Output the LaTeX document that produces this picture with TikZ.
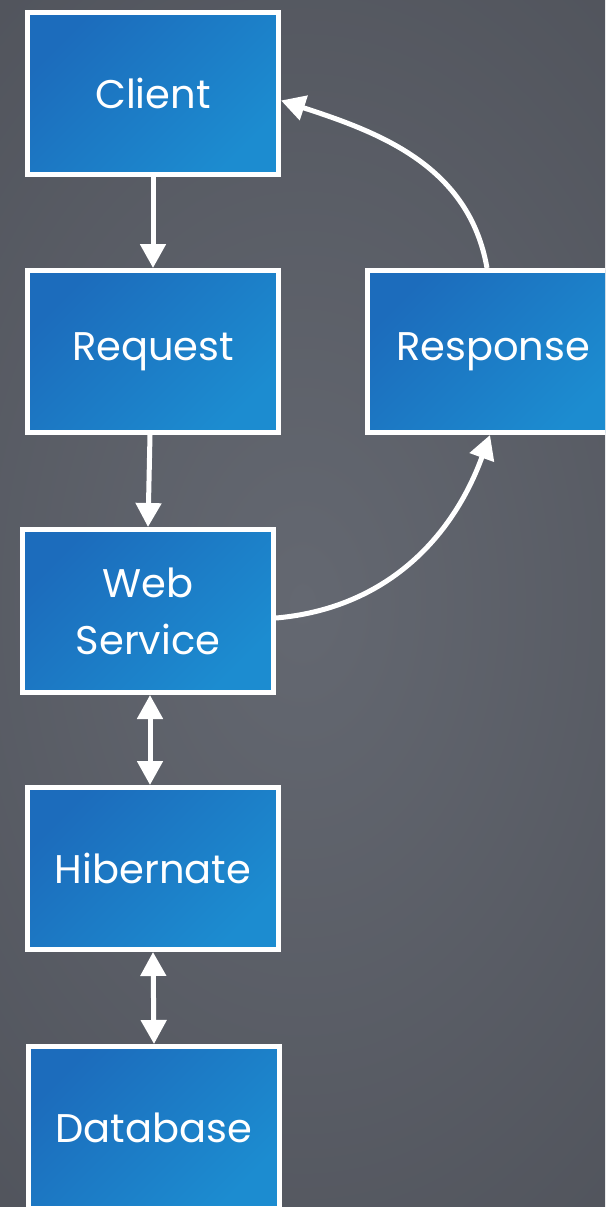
\documentclass[tikz,border=0pt]{standalone}
\usepackage{fontspec}
\setmainfont{Poppins}
\usetikzlibrary{arrows.meta}
\definecolor{bgmid}{HTML}{646871}
\definecolor{bgout}{HTML}{4E5159}
\definecolor{boxA}{HTML}{1C6CBC}
\definecolor{boxB}{HTML}{1C8CD0}
\tikzset{
  box/.style={draw=white, line width=5pt, shading=axis, left color=boxA, right color=boxB, shading angle=45,
    minimum width=251pt, minimum height=162pt, inner sep=0pt, align=center,
    font=\fontsize{40}{57}\selectfont, text=white},
  conn/.style={draw=white, line width=5pt, -{Triangle[width=25pt,length=24pt]}},
  bconn/.style={draw=white, line width=5pt, {Triangle[width=25pt,length=24pt]}-{Triangle[width=25pt,length=24pt]}}
}
\begin{document}
\begin{tikzpicture}[x=1pt,y=-1pt]
\useasboundingbox (0,0) rectangle (605,1207);
\clip (0,0) rectangle (605,1207);
\shade[inner color=bgmid, outer color=bgout] (-300,-300) rectangle (905,1507);
\node[box] (client) at (153,93.5) {Client};
\node[box] (request) at (153,351.5) {Request};
\node[box] (response) at (493,351.5) {Response};
\node[box, minimum height=163pt] (web) at (148,611) {Web\\Service};
\node[box] (hib) at (153,868.5) {Hibernate};
\node[box] (db) at (154,1127.5) {Database};
\draw[conn] (client.south) -- (request.north);
\draw[conn] ([xshift=-3pt]request.south) -- (web.north);
\draw[bconn] ([xshift=2pt]web.south) -- ([xshift=-3pt]hib.north);
\draw[bconn] (hib.south) -- (db.north);
\draw[conn] ([yshift=-7pt]web.east) to[out=5,in=-110] ([xshift=-3pt]response.south);
\draw[conn] ([xshift=-6pt]response.north) to[out=100,in=-18] ([yshift=-7pt]client.east);
\end{tikzpicture}
\end{document}
